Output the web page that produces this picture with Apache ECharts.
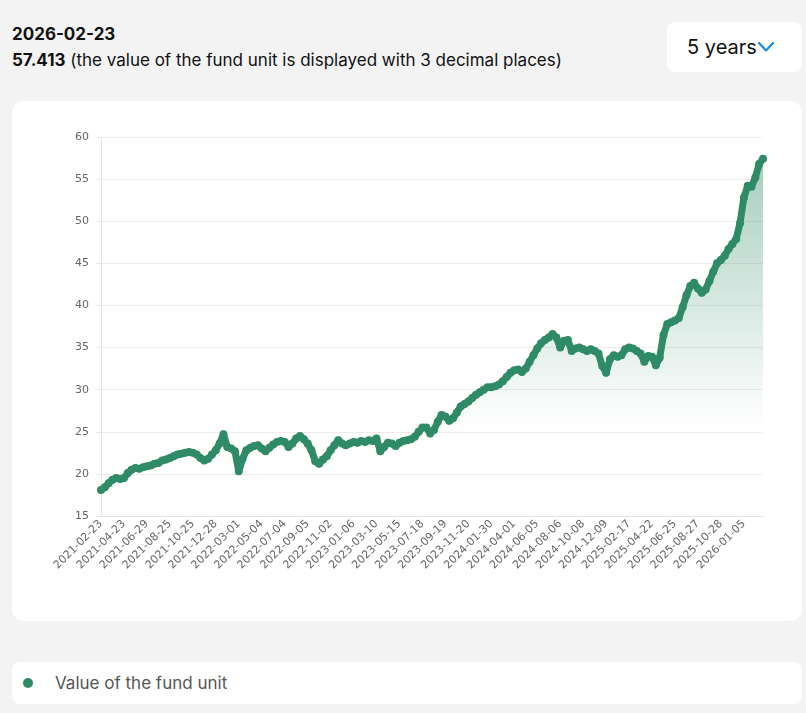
<!DOCTYPE html>
<html>
<head>
<meta charset="utf-8">
<script src="https://cdn.jsdelivr.net/npm/echarts@6/dist/echarts.min.js"></script>
<style>
  html, body { margin: 0; padding: 0; }
  body { width: 806px; height: 713px; background: #f3f3f3; position: relative; overflow: hidden; font-family: Inter, "Noto Sans", sans-serif; }
  #date { position: absolute; left: 12px; top: 23px; font-size: 17px; font-weight: 700; color: #111; line-height: 22px; }
  #val { position: absolute; left: 12px; top: 49px; font-size: 17px; color: #111; line-height: 22px; }
  #val b { font-weight: 700; }
  #range { position: absolute; left: 667px; top: 22px; width: 135px; height: 50px; background: #fff; border-radius: 8px; }
  #range span { position: absolute; left: 20px; top: 12px; font-size: 20px; color: #111; line-height: 26px; }
  #range svg { position: absolute; left: 90px; top: 19px; }
  #card { position: absolute; left: 12px; top: 101px; width: 790px; height: 520px; background: #fff; border-radius: 12px; }
  #chart { width: 790px; height: 520px; }
  #legend { position: absolute; left: 12px; top: 662px; width: 790px; height: 42px; background: #fff; border-radius: 8px; }
  #legend .dot { position: absolute; left: 11px; top: 16px; width: 10px; height: 10px; border-radius: 50%; background: #2f8b67; }
  #legend .txt { position: absolute; left: 43px; top: 10px; font-size: 17px; color: #555; line-height: 22px; }
</style>
</head>
<body>
<div id="date">2026-02-23</div>
<div id="val"><b>57.413</b> (the value of the fund unit is displayed with 3 decimal places)</div>
<div id="range"><span>5 years</span><svg width="18" height="12" viewBox="0 0 18 12"><polyline points="2,2 9,9.5 16,2" fill="none" stroke="#1a8be0" stroke-width="2.2" stroke-linecap="round" stroke-linejoin="round"/></svg></div>
<div id="card"><div id="chart"></div></div>
<div id="legend"><div class="dot"></div><div class="txt">Value of the fund unit</div></div>
<script>
const dates = [
  '2021-02-23','2021-03-05','2021-03-15','2021-03-25','2021-04-06','2021-04-14',
  '2021-04-23','2021-05-05','2021-05-17','2021-05-27','2021-06-08','2021-06-18',
  '2021-06-29','2021-07-08','2021-07-19','2021-07-28','2021-08-06','2021-08-16',
  '2021-08-25','2021-09-03','2021-09-14','2021-09-24','2021-10-05','2021-10-14',
  '2021-10-25','2021-11-04','2021-11-16','2021-11-26','2021-12-07','2021-12-16',
  '2021-12-28','2022-01-07','2022-01-18','2022-01-28','2022-02-08','2022-02-18',
  '2022-03-01','2022-03-11','2022-03-22','2022-04-01','2022-04-12','2022-04-22',
  '2022-05-04','2022-05-13','2022-05-24','2022-06-03','2022-06-14','2022-06-24',
  '2022-07-04','2022-07-14','2022-07-25','2022-08-04','2022-08-16','2022-08-25',
  '2022-09-05','2022-09-14','2022-09-23','2022-10-04','2022-10-13','2022-10-24',
  '2022-11-02','2022-11-14','2022-11-24','2022-12-05','2022-12-15','2022-12-27',
  '2023-01-06','2023-01-17','2023-01-27','2023-02-07','2023-02-17','2023-02-28',
  '2023-03-10','2023-03-21','2023-03-31','2023-04-13','2023-04-24','2023-05-04',
  '2023-05-15','2023-05-25','2023-06-05','2023-06-16','2023-06-27','2023-07-07',
  '2023-07-18','2023-07-28','2023-08-08','2023-08-18','2023-08-29','2023-09-08',
  '2023-09-19','2023-09-29','2023-10-10','2023-10-20','2023-10-31','2023-11-09',
  '2023-11-20','2023-11-30','2023-12-12','2023-12-22','2024-01-09','2024-01-19',
  '2024-01-30','2024-02-09','2024-02-20','2024-03-01','2024-03-12','2024-03-21',
  '2024-04-01','2024-04-11','2024-04-22','2024-05-06','2024-05-16','2024-05-27',
  '2024-06-05','2024-06-14','2024-06-25','2024-07-05','2024-07-16','2024-07-26',
  '2024-08-06','2024-08-19','2024-08-28','2024-09-06','2024-09-17','2024-09-27',
  '2024-10-08','2024-10-17','2024-10-28','2024-11-07','2024-11-19','2024-11-28',
  '2024-12-09','2024-12-19','2025-01-02','2025-01-14','2025-01-24','2025-02-05',
  '2025-02-17','2025-02-27','2025-03-10','2025-03-20','2025-03-31','2025-04-10',
  '2025-04-22','2025-05-05','2025-05-15','2025-05-26','2025-06-05','2025-06-16',
  '2025-06-25','2025-07-07','2025-07-16','2025-07-25','2025-08-05','2025-08-18',
  '2025-08-27','2025-09-05','2025-09-16','2025-09-26','2025-10-07','2025-10-17',
  '2025-10-28','2025-11-07','2025-11-19','2025-11-28','2025-12-10','2025-12-19',
  '2026-01-05','2026-01-14','2026-01-23','2026-02-03','2026-02-12','2026-02-23'
];
const unitValues = [
  18.1, 18.4, 18.9, 19.3, 19.5, 19.4, 19.5, 20.1, 20.5, 20.7,
  20.6, 20.8, 20.9, 21.0, 21.2, 21.3, 21.6, 21.7, 21.9, 22.1,
  22.3, 22.4, 22.5, 22.6, 22.5, 22.3, 21.9, 21.6, 21.8, 22.3,
  22.8, 23.6, 24.7, 23.2, 23.0, 22.7, 20.3, 21.8, 22.8, 23.1,
  23.3, 23.4, 23.0, 22.7, 23.1, 23.5, 23.8, 23.9, 23.8, 23.2,
  23.6, 24.2, 24.5, 24.1, 23.6, 22.8, 21.5, 21.2, 21.7, 22.1,
  22.8, 23.4, 24.0, 23.6, 23.4, 23.6, 23.8, 23.7, 23.9, 23.8,
  24.0, 23.9, 24.2, 22.7, 23.2, 23.7, 23.6, 23.3, 23.7, 23.9,
  24.0, 24.1, 24.4, 25.0, 25.5, 25.5, 24.8, 25.2, 26.2, 27.0,
  26.8, 26.3, 26.6, 27.3, 28.0, 28.3, 28.6, 29.0, 29.4, 29.7,
  30.0, 30.3, 30.3, 30.4, 30.6, 31.0, 31.5, 32.0, 32.3, 32.4,
  32.1, 32.5, 33.3, 34.1, 34.9, 35.5, 35.9, 36.2, 36.6, 36.2,
  35.0, 35.8, 35.9, 34.6, 34.9, 35.0, 34.8, 34.6, 34.8, 34.6,
  34.3, 32.8, 32.0, 33.6, 34.1, 33.9, 34.1, 34.8, 35.0, 34.9,
  34.6, 34.3, 33.3, 34.0, 33.9, 32.9, 33.8, 36.5, 37.8, 38.0,
  38.2, 38.5, 39.8, 41.2, 42.3, 42.7, 42.0, 41.5, 41.9, 42.9,
  44.0, 45.0, 45.4, 45.9, 46.7, 47.3, 47.9, 49.8, 52.8, 54.2,
  54.1, 55.2, 56.8, 57.413
];
const yTicks = { min: 15, max: 60, step: 5 };
const seriesName = 'Value of the fund unit';
const lineColor = '#2f8b67';
const axisFont = '"DejaVu Sans", Verdana, sans-serif';

const chart = echarts.init(document.getElementById('chart'), null, { renderer: 'canvas' });
chart.setOption({
  animation: false,
  grid: { left: 89, right: 39, top: 36, bottom: 105, containLabel: false },
  xAxis: {
    type: 'category',
    data: dates,
    boundaryGap: false,
    axisLine: { show: true, lineStyle: { color: '#e6e6e6' } },
    axisTick: { show: false },
    axisLabel: {
      interval: 5,
      rotate: 45,
      fontSize: 11,
      color: '#666',
      fontFamily: axisFont,
      margin: 6
    },
    splitLine: { show: false }
  },
  yAxis: {
    type: 'value',
    min: yTicks.min,
    max: yTicks.max,
    interval: yTicks.step,
    axisLine: { show: true, lineStyle: { color: '#e6e6e6' } },
    axisTick: { show: true, length: 5, lineStyle: { color: '#e6e6e6' } },
    axisLabel: { fontSize: 11, color: '#666', margin: 12, fontFamily: axisFont },
    splitLine: { show: true, lineStyle: { color: '#ececec', width: 1 } }
  },
  series: [{
    name: seriesName,
    type: 'line',
    data: unitValues,
    showSymbol: true,
    showAllSymbol: true,
    symbol: 'circle',
    symbolSize: 8,
    itemStyle: { color: lineColor },
    lineStyle: { color: lineColor, width: 7, join: 'round', cap: 'round' },
    areaStyle: {
      color: new echarts.graphic.LinearGradient(0, 0, 0, 1, [
        { offset: 0, color: 'rgba(47,139,103,0.6)' },
        { offset: 0.75, color: 'rgba(47,139,103,0)' }
      ])
    }
  }]
});
</script>
</body>
</html>
